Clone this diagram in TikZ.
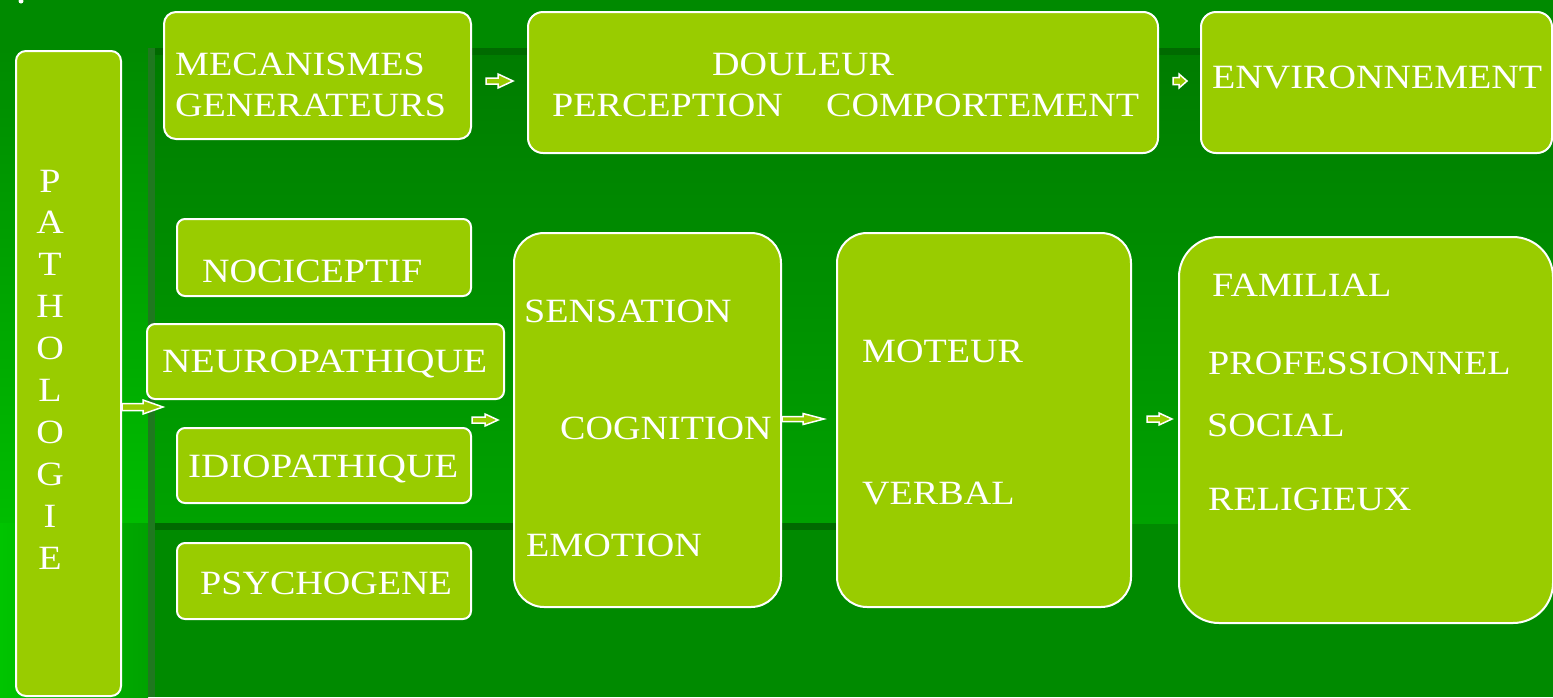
\documentclass[tikz,border=0pt]{standalone}
\usepackage{fontspec}
\setmainfont{Liberation Serif}[FakeStretch=1.12]
\definecolor{bgbase}{HTML}{008A00}
\definecolor{bglight}{HTML}{00A200}
\definecolor{bgbright}{HTML}{00C400}
\definecolor{bgdark}{HTML}{006A00}
\definecolor{bgshadow}{HTML}{1F781F}
\definecolor{boxgreen}{HTML}{99CC00}
\tikzset{
  box/.style={draw=white, line width=2pt, fill=boxgreen, inner sep=0pt, anchor=north west},
  lbl/.style={text=white, inner sep=0pt, anchor=base west, font=\fontsize{34}{40}\selectfont},
  arr/.style={fill=boxgreen, draw=white, line width=1.5pt, line join=miter},
  pics/blockarrow/.style args={#1/#2/#3/#4}{code={
    \path[arr] (0,-#2) -- (#1-#4,-#2) -- (#1-#4,-#3) -- (#1,0) -- (#1-#4,#3)
      -- (#1-#4,#2) -- (0,#2) -- cycle;
  }}
}
\begin{document}
\begin{tikzpicture}[x=1pt,y=-1pt]
\useasboundingbox (0,0) rectangle (1553,697);

% background bands
\fill[bgbase] (0,0) rectangle (1553,697);
\shade[top color=bgbase!90!black, bottom color=bglight] (150,55) rectangle (1553,523);
\shade[top color=bgbase, bottom color=bgbright!80!bglight] (0,48) rectangle (148,523);
\shade[left color=bgbright, right color=bglight] (0,523) rectangle (148,697);
\fill[bgdark] (150,48) rectangle (1553,55);
\fill[bgdark] (155,523) rectangle (1000,530);
\fill[bgshadow] (148,48) rectangle (155,697);
\fill[white] (21,1) circle (2.5);

% boxes
\node[box, rounded corners=10pt, minimum width=105, minimum height=645] (patho) at (15,50) {};
\node[box, rounded corners=12pt, minimum width=307, minimum height=127] (meca) at (163,11) {};
\node[box, rounded corners=15pt, minimum width=630, minimum height=141] (douleur) at (527,11) {};
\node[box, rounded corners=15pt, minimum width=351, minimum height=141] (env) at (1200,11) {};
\node[box, rounded corners=8pt, minimum width=294, minimum height=77] (noci) at (176,218) {};
\node[box, rounded corners=8pt, minimum width=357, minimum height=75] (neuro) at (146,323) {};
\node[box, rounded corners=8pt, minimum width=294, minimum height=75] (idio) at (176,427) {};
\node[box, rounded corners=8pt, minimum width=294, minimum height=76] (psycho) at (176,542) {};
\node[box, rounded corners=30pt, minimum width=267, minimum height=374] (sens) at (513,232) {};
\node[box, rounded corners=30pt, minimum width=294, minimum height=374] (moteur) at (836,232) {};
\node[box, rounded corners=40pt, minimum width=374, minimum height=386] (famil) at (1178,236) {};

% vertical title
\foreach \ch [count=\i from 0] in {P,A,T,H,O,L,O,G,I,E}
  \node[lbl, anchor=base] (pl\i) at (50,{192+41.9*\i}) {\ch};

% labels
\node[lbl] (tMeca) at (175,75) {MECANISMES};
\node[lbl] (tGene) at (175,116) {GENERATEURS};
\node[lbl, anchor=base] (tDoul) at (803,75) {DOULEUR};
\node[lbl] (tPerc) at (552,116) {PERCEPTION};
\node[lbl] (tComp) at (826,116) {COMPORTEMENT};
\node[lbl] (tEnv) at (1212,88) {ENVIRONNEMENT};
\node[lbl] (tNoci) at (202,282) {NOCICEPTIF};
\node[lbl] (tNeuro) at (162,372) {\addfontfeatures{FakeStretch=1.16}NEUROPATHIQUE};
\node[lbl] (tIdio) at (188,477) {\addfontfeatures{FakeStretch=1.15}IDIOPATHIQUE};
\node[lbl] (tPsy) at (200,594) {PSYCHOGENE};
\node[lbl] (tSens) at (524,322) {SENSATION};
\node[lbl] (tCog) at (560,439) {COGNITION};
\node[lbl] (tEmo) at (526,556) {EMOTION};
\node[lbl] (tMot) at (862,362) {MOTEUR};
\node[lbl] (tVerb) at (862,504) {VERBAL};
\node[lbl] (tFam) at (1212,296) {FAMILIAL};
\node[lbl] (tProf) at (1208,374) {PROFESSIONNEL};
\node[lbl] (tSoc) at (1207,436) {SOCIAL};
\node[lbl] (tRel) at (1208,510) {RELIGIEUX};

% arrow tails
\coordinate (aPatho) at (122,407);
\coordinate (aMeca) at (486,81);
\coordinate (aDoul) at (1173,81);
\coordinate (aNeuro) at (472,420);
\coordinate (aSens) at (782,419);
\coordinate (aMot) at (1147,419);

% block arrows
\pic at (aPatho) {blockarrow=41/3.5/7/20};
\pic at (aMeca) {blockarrow=27/3/7/15};
\pic at (aDoul) {blockarrow=14/3.5/7/8};
\pic at (aNeuro) {blockarrow=26/3/6/13};
\pic at (aSens) {blockarrow=42/2.5/5.5/21};
\pic at (aMot) {blockarrow=25/3/6/13};
\end{tikzpicture}
\end{document}
